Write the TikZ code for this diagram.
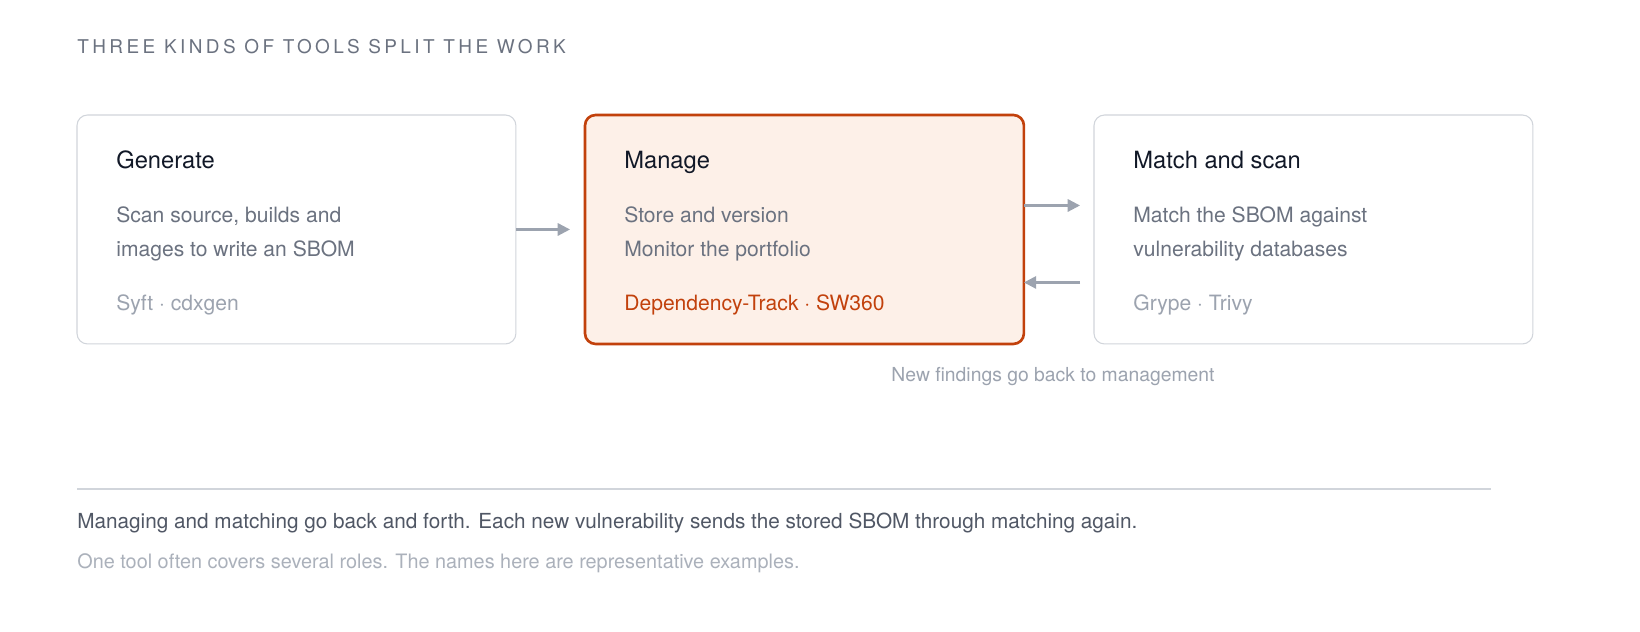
\documentclass[tikz,border=0pt]{standalone}
\usepackage{fontspec}
\setmainfont{TeX Gyre Heros}
\usetikzlibrary{positioning,calc,arrows.meta}
\definecolor{inkdark}{HTML}{111827}
\definecolor{inkgray}{HTML}{6B7280}
\definecolor{inklight}{HTML}{9CA3AF}
\definecolor{edgegray}{HTML}{D1D5DB}
\definecolor{arrowgray}{HTML}{9CA3AF}
\definecolor{rust}{HTML}{C2410C}
\definecolor{rustfill}{HTML}{FDF0E8}
\tikzset{
  card/.style={draw=edgegray, line width=0.6pt, rounded corners=6pt, minimum width=8.78cm, minimum height=4.58cm, fill=white, outer sep=0pt, inner sep=0pt},
  hot/.style={card, draw=rust, line width=1.5pt, fill=rustfill},
  head/.style={anchor=base west, font=\fontsize{13.5}{16}\selectfont, text=inkdark, inner sep=0pt},
  body/.style={anchor=base west, font=\fontsize{12}{19.3}\selectfont, text=inkgray, inner sep=0pt},
  tools/.style={anchor=base west, font=\fontsize{12}{14}\selectfont, text=inklight, inner sep=0pt},
  link/.style={draw=arrowgray, line width=1.3pt, -{Triangle[length=7pt,width=7pt]}}
}
\begin{document}
\begin{tikzpicture}[x=0.02cm,y=-0.02cm]
  \fill[white] (0,0) rectangle (1640,632);
  \node[anchor=base west, inner sep=0pt, text=inkgray, font=\fontsize{10.8}{13}\selectfont\addfontfeature{LetterSpace=18}] (heading) at (77,53) {THREE KINDS OF TOOLS SPLIT THE WORK};
  % the three cards
  \node[card, anchor=north west] (gen) at (77,115) {};
  \node[hot, anchor=north west] (man) at (585,115) {};
  \node[card, anchor=north west] (mat) at (1094,115) {};
  \node[head] (genhead) at (116,168) {Generate};
  \node[body] (genbody1) at (116,222) {Scan source, builds and};
  \node[body] (genbody2) at (116,256) {images to write an SBOM};
  \node[tools] (gentools) at (116,310) {Syft · cdxgen};
  \node[head] (manhead) at (624,168) {Manage};
  \node[body] (manbody1) at (624,222) {Store and version};
  \node[body] (manbody2) at (624,256) {Monitor the portfolio};
  \node[tools, text=rust] (mantools) at (624,310) {Dependency-Track · SW360};
  \node[head] (mathead) at (1133,168) {Match and scan};
  \node[body] (matbody1) at (1133,222) {Match the SBOM against};
  \node[body] (matbody2) at (1133,256) {vulnerability databases};
  \node[tools] (mattools) at (1133,310) {Grype · Trivy};
  % arrows
  \draw[link, shorten >=0.3cm] (gen.east) -- (gen.east -| man.west);
  \draw[link, shorten >=0.28cm] ([yshift=0.48cm]man.east) -- ([yshift=0.48cm]man.east -| mat.west);
  \draw[link, shorten <=0.28cm] ([yshift=-1.06cm]man.east -| mat.west) -- ([yshift=-1.06cm]man.east);
  \node[anchor=base, inner sep=0pt, text=inklight, font=\fontsize{11}{13}\selectfont] (note) at (1053,381) {New findings go back to management};
  % footer
  \coordinate (ruleL) at (77,489);
  \coordinate (ruleR) at (1491,489);
  \draw[edgegray, line width=0.8pt] (ruleL) -- (ruleR);
  \node[anchor=base west, inner sep=0pt, text=inkgray!70!inkdark, font=\fontsize{11.8}{14}\selectfont] (foot1) at (77,528) {Managing and matching go back and forth. Each new vulnerability sends the stored SBOM through matching again.};
  \node[anchor=base west, inner sep=0pt, text=inklight!85!white, font=\fontsize{11.3}{14}\selectfont] (foot2) at (77,568) {One tool often covers several roles. The names here are representative examples.};
  \pgfresetboundingbox
  \useasboundingbox (0,0) rectangle (1640,632);
\end{tikzpicture}
\end{document}
